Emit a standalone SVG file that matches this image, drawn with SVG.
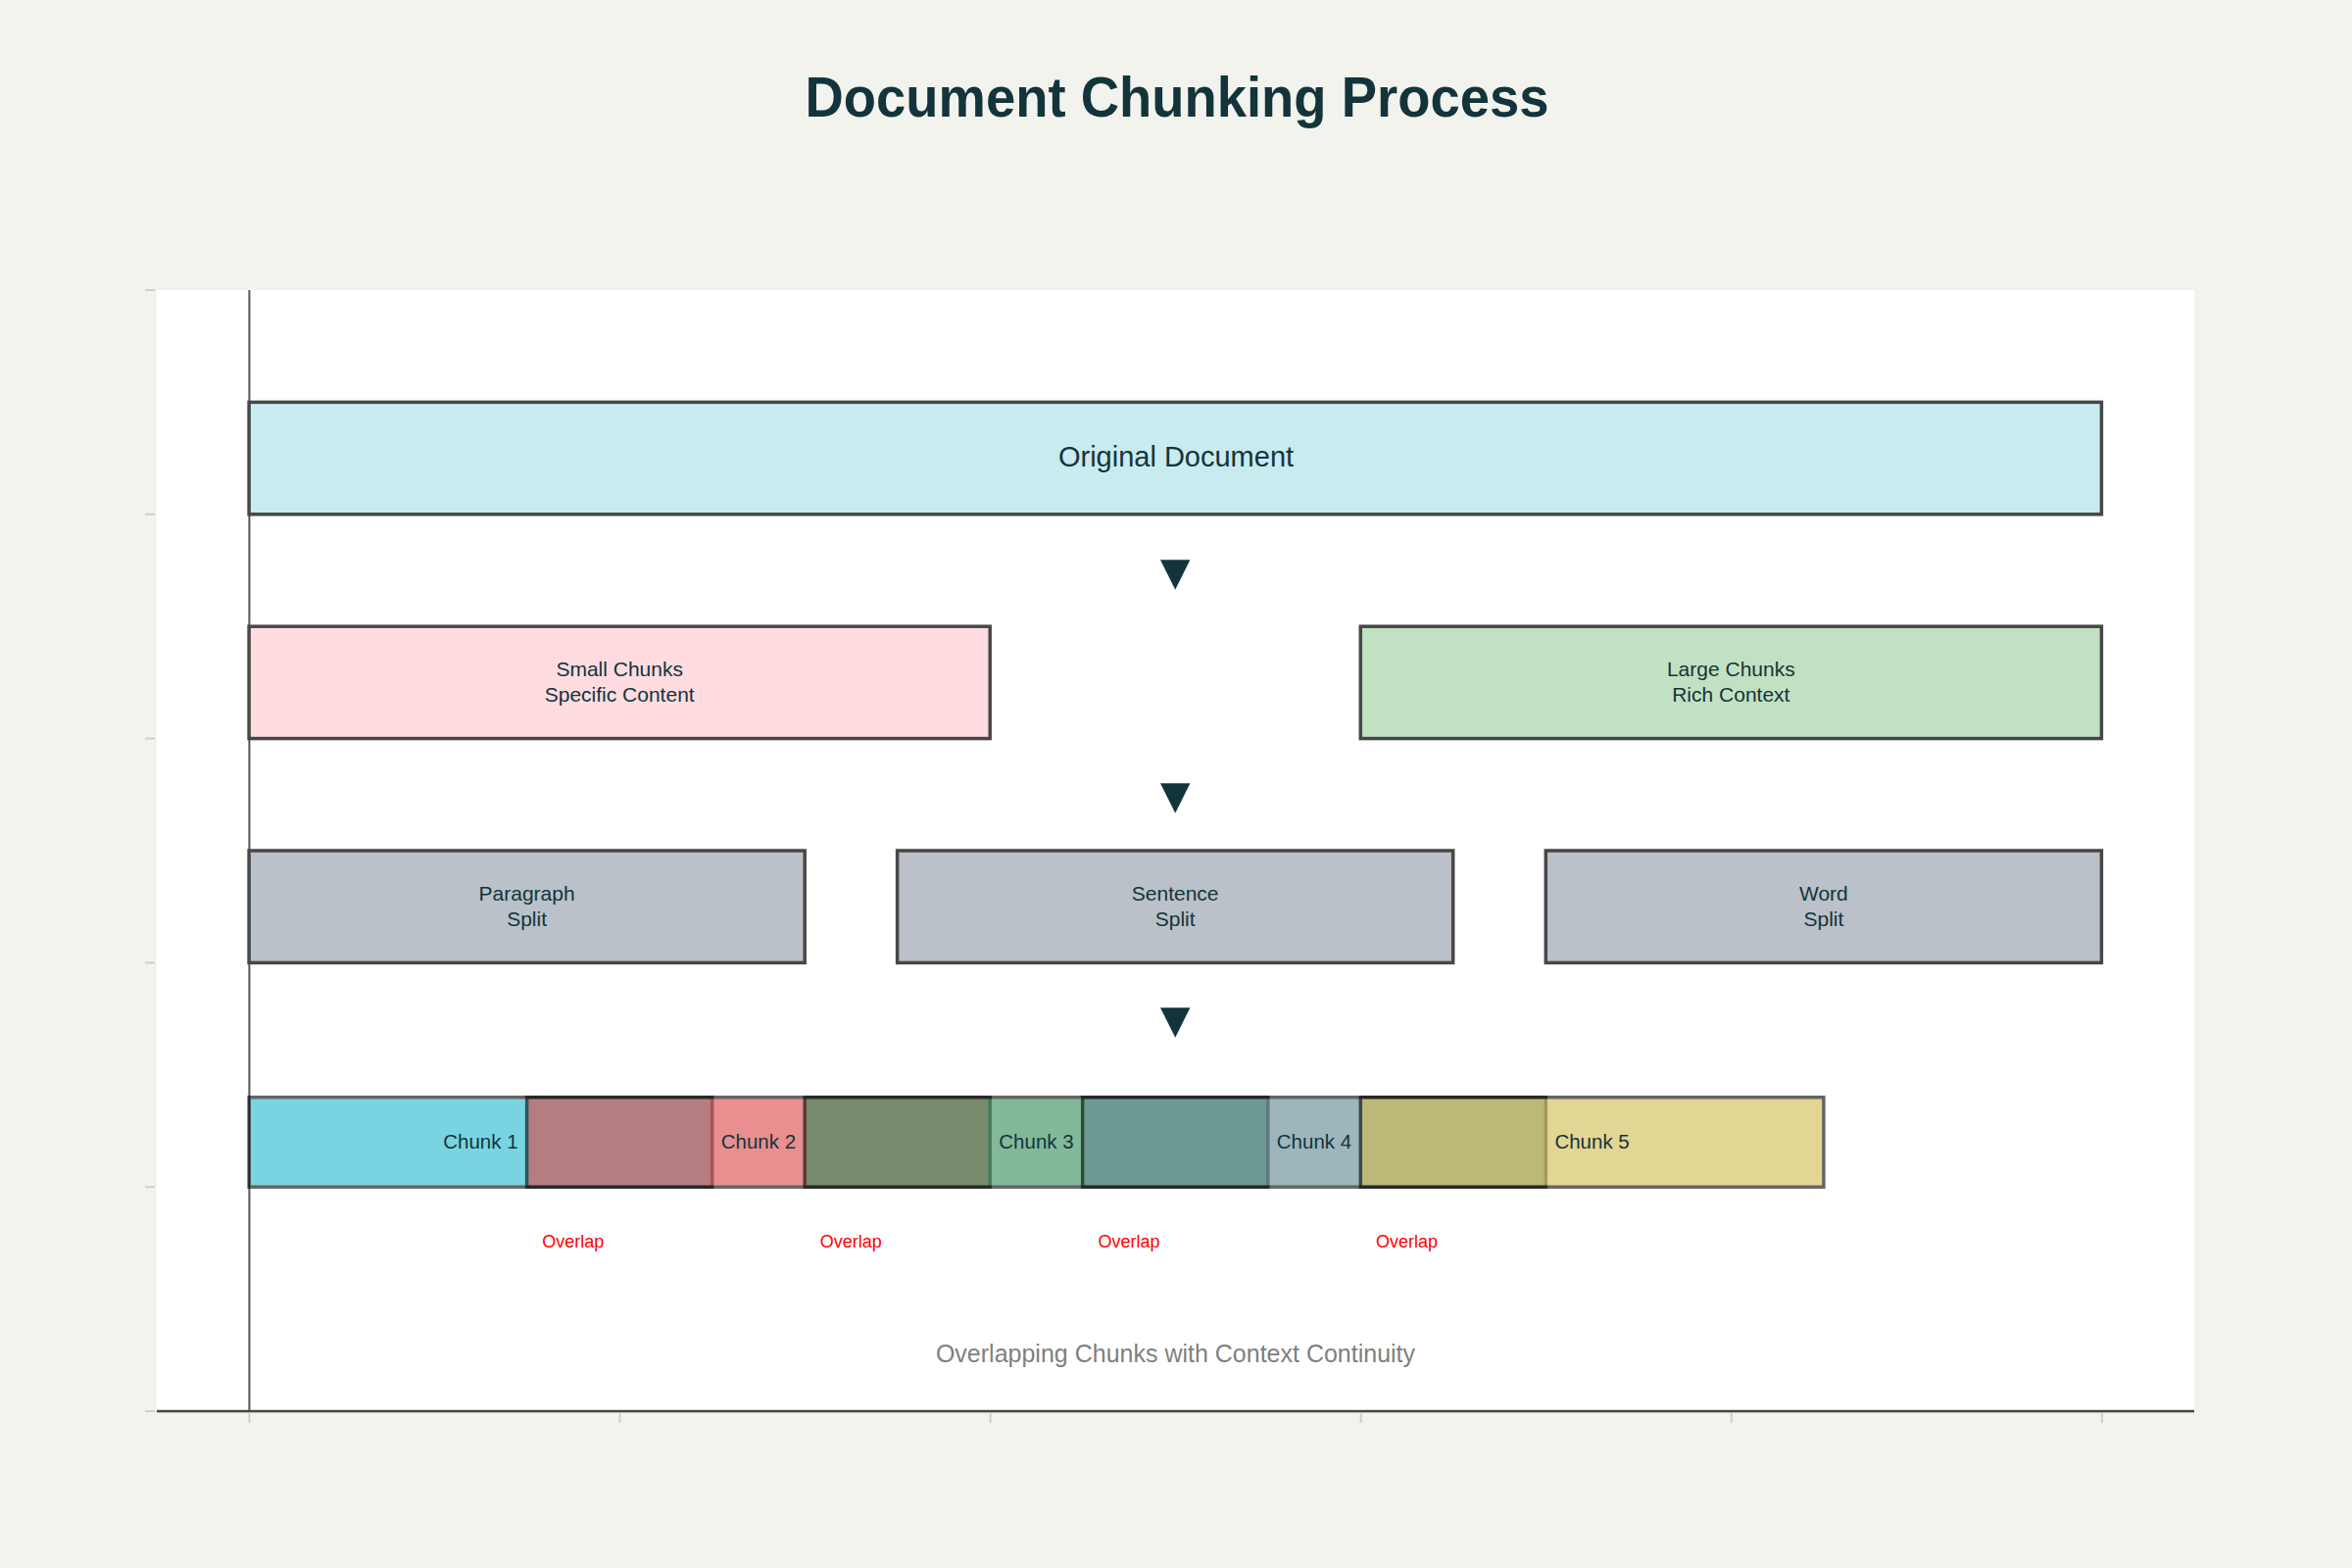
<svg xmlns="http://www.w3.org/2000/svg" width="2400" height="1600" viewBox="0 0 2400 1600">
  <style>
    .t { font-family: "Liberation Sans", Arial, sans-serif; fill: #13343B; }
    .box { stroke: #474747; stroke-width: 3.5; }
    .chunk { stroke: #000; stroke-width: 3.5; opacity: 0.6; }
    .lbl { font-size: 21px; text-anchor: middle; }
    .clbl { font-size: 20.5px; text-anchor: middle; }
    .ov { font-family: "Liberation Sans", Arial, sans-serif; font-size: 18px; fill: #FF0000; text-anchor: middle; }
    .arrow { font-family: "Liberation Sans", "DejaVu Sans", sans-serif; font-size: 52px; fill: #13343B; text-anchor: middle; }
    .tick { stroke: #d0cfc9; stroke-width: 2; }
  </style>
  <rect x="0" y="0" width="2400" height="1600" fill="#F3F3EE"/>
  <text class="t" x="1201" y="119" font-size="58" font-weight="bold" text-anchor="middle" textLength="759" lengthAdjust="spacingAndGlyphs">Document Chunking Process</text>

  <g id="plot-area">
    <rect x="160" y="296" width="2079" height="1144" fill="#FFFFFF"/>
    <line x1="254.4" y1="296" x2="254.4" y2="1440" stroke="#555" stroke-width="2"/>
    <line x1="160" y1="1440" x2="2239" y2="1440" stroke="#444" stroke-width="2.5"/>
    <g class="tick">
      <line x1="148" y1="296" x2="158" y2="296"/>
      <line x1="148" y1="524.8" x2="158" y2="524.8"/>
      <line x1="148" y1="753.6" x2="158" y2="753.6"/>
      <line x1="148" y1="982.4" x2="158" y2="982.4"/>
      <line x1="148" y1="1211.2" x2="158" y2="1211.2"/>
      <line x1="148" y1="1440" x2="158" y2="1440"/>
      <line x1="254.4" y1="1442" x2="254.4" y2="1452"/>
      <line x1="632.5" y1="1442" x2="632.5" y2="1452"/>
      <line x1="1010.6" y1="1442" x2="1010.6" y2="1452"/>
      <line x1="1388.7" y1="1442" x2="1388.7" y2="1452"/>
      <line x1="1766.8" y1="1442" x2="1766.8" y2="1452"/>
      <line x1="2144.9" y1="1442" x2="2144.9" y2="1452"/>
    </g>
  </g>

  <g id="node-original">
    <rect class="box" x="254.1" y="410.4" width="1890.3" height="114.4" fill="#C8EBEF"/>
    <text class="t" x="1200" y="476" font-size="29" text-anchor="middle">Original Document</text>
  </g>
  <g id="node-small">
    <rect class="box" x="254.1" y="639.2" width="756.1" height="114.4" fill="#FEDCE0"/>
    <text class="t lbl" x="632.2" y="690">Small Chunks</text>
    <text class="t lbl" x="632.2" y="716">Specific Content</text>
  </g>
  <g id="node-large">
    <rect class="box" x="1388.3" y="639.2" width="756.1" height="114.4" fill="#C2E1C2"/>
    <text class="t lbl" x="1766.3" y="690">Large Chunks</text>
    <text class="t lbl" x="1766.3" y="716">Rich Context</text>
  </g>
  <g id="node-paragraph">
    <rect class="box" x="254.1" y="868" width="567.1" height="114.4" fill="#BAC1C8"/>
    <text class="t lbl" x="537.6" y="919">Paragraph</text>
    <text class="t lbl" x="537.6" y="945">Split</text>
  </g>
  <g id="node-sentence">
    <rect class="box" x="915.6" y="868" width="567.1" height="114.4" fill="#BAC1C8"/>
    <text class="t lbl" x="1199.2" y="919">Sentence</text>
    <text class="t lbl" x="1199.2" y="945">Split</text>
  </g>
  <g id="node-word">
    <rect class="box" x="1577.3" y="868" width="567.1" height="114.4" fill="#BAC1C8"/>
    <text class="t lbl" x="1860.9" y="919">Word</text>
    <text class="t lbl" x="1860.9" y="945">Split</text>
  </g>

  <g id="node-chunks">
    <rect class="chunk" x="254.1" y="1119.7" width="472.6" height="91.5" fill="#1FB8CD"/>
    <rect class="chunk" x="537.6" y="1119.7" width="472.6" height="91.5" fill="#DB4545"/>
    <rect class="chunk" x="821.2" y="1119.7" width="472.6" height="91.5" fill="#2E8B57"/>
    <rect class="chunk" x="1104.7" y="1119.7" width="472.6" height="91.5" fill="#5D878F"/>
    <rect class="chunk" x="1388.3" y="1119.7" width="472.6" height="91.5" fill="#D2BA4C"/>
    <text class="t clbl" x="490.4" y="1172">Chunk 1</text>
    <text class="t clbl" x="773.9" y="1172">Chunk 2</text>
    <text class="t clbl" x="1057.5" y="1172">Chunk 3</text>
    <text class="t clbl" x="1341.0" y="1172">Chunk 4</text>
    <text class="t clbl" x="1624.6" y="1172">Chunk 5</text>
    <text class="ov" x="584.8" y="1273">Overlap</text>
    <text class="ov" x="868.3" y="1273">Overlap</text>
    <text class="ov" x="1151.9" y="1273">Overlap</text>
    <text class="ov" x="1435.4" y="1273">Overlap</text>
  </g>

  <g id="connectors">
    <text class="arrow" x="1199.3" y="601">▼</text>
    <text class="arrow" x="1199.3" y="829">▼</text>
    <text class="arrow" x="1199.3" y="1058">▼</text>
  </g>

  <text x="1199.5" y="1390" font-family="Liberation Sans, Arial, sans-serif" font-size="25" fill="#7f7f7f" text-anchor="middle">Overlapping Chunks with Context Continuity</text>
</svg>
